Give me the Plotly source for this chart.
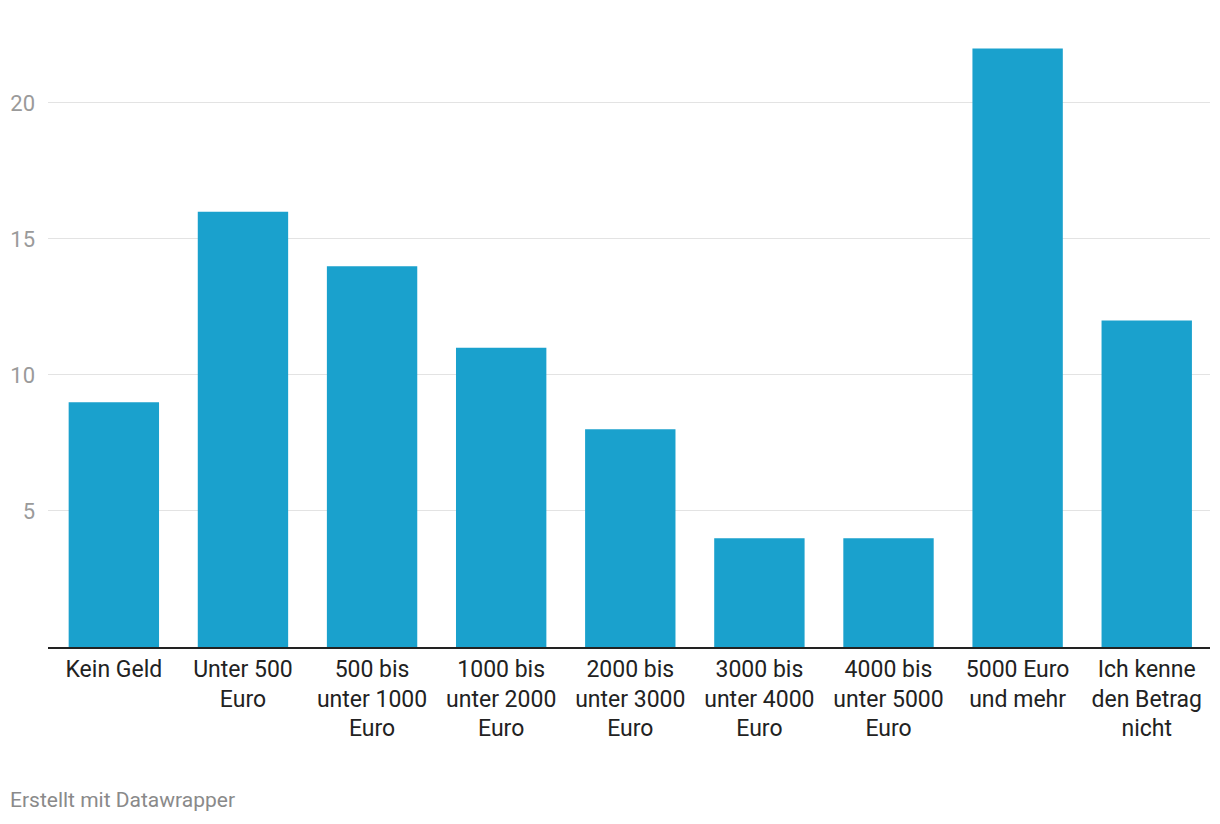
import plotly.graph_objects as go

categories = [
    "Kein Geld",
    "Unter 500<br>Euro",
    "500 bis<br>unter 1000<br>Euro",
    "1000 bis<br>unter 2000<br>Euro",
    "2000 bis<br>unter 3000<br>Euro",
    "3000 bis<br>unter 4000<br>Euro",
    "4000 bis<br>unter 5000<br>Euro",
    "5000 Euro<br>und mehr",
    "Ich kenne<br>den Betrag<br>nicht",
]
values = [9, 16, 14, 11, 8, 4, 4, 22, 12]
y_ticks = [5, 10, 15, 20]

# page body adds an 8px offset; compensate
W, H = 1212, 816
ml, mr, mt, mb = 40, 10, 22, 177
plot_w = W - ml - mr
plot_h = H - mt - mb

fig = go.Figure(
    go.Bar(
        x=list(range(len(categories))),
        y=values,
        marker=dict(color="#1aa1cd", line=dict(width=0)),
        width=0.7,
        hoverinfo="skip",
    )
)

fig.update_layout(
    width=W,
    height=H,
    margin=dict(l=ml, r=mr, t=mt, b=mb, autoexpand=False),
    paper_bgcolor="white",
    plot_bgcolor="white",
    font=dict(family="Roboto", size=23, color="#222222"),
    showlegend=False,
)

fig.update_xaxes(
    tickmode="array",
    tickvals=list(range(len(categories))),
    ticktext=categories,
    range=[-0.51, 8.49],
    showgrid=False,
    showline=True,
    linecolor="#222222",
    linewidth=2,
    ticks="",
    tickangle=0,
    automargin=False,
    tickfont=dict(family="Roboto", size=23, color="#222222"),
    fixedrange=True,
)

fig.update_yaxes(
    range=[0, 22.68],
    tickmode="array",
    tickvals=y_ticks,
    ticktext=[str(v) for v in y_ticks],
    showgrid=True,
    gridcolor="#e3e3e3",
    gridwidth=1,
    zeroline=False,
    showline=False,
    ticks="",
    ticklabelstandoff=12,
    automargin=False,
    tickfont=dict(family="Roboto", size=22, color="#9a9a9a"),
    fixedrange=True,
)

fig.add_annotation(
    text="Erstellt mit Datawrapper",
    xref="paper",
    yref="paper",
    x=(0 - ml) / plot_w,
    y=-(792 - (H - mb)) / plot_h,
    xanchor="left",
    yanchor="middle",
    showarrow=False,
    font=dict(family="Roboto", size=21, color="#8a8a8a"),
)

fig.write_html("out.html")
